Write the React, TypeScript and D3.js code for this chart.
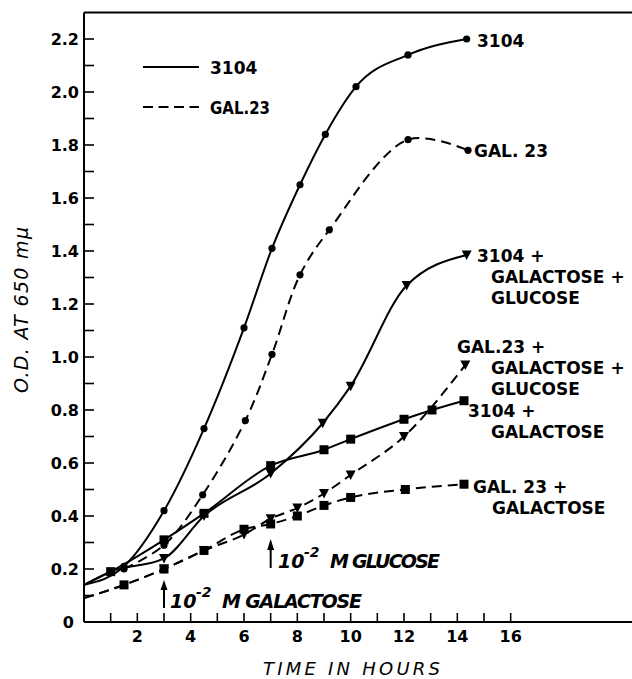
import React from 'react';
import * as d3 from 'd3';

// optical density (650 mu) vs time in hours
const hours3104 = [0, 1.5, 3, 4.5, 6, 7.05, 8.1, 9.05, 10.2, 12.15, 14.35];
const od3104 = [0.14, 0.21, 0.42, 0.73, 1.11, 1.41, 1.65, 1.84, 2.02, 2.14, 2.2];

const hoursGal23 = [1.5, 3, 4.45, 6.05, 7.05, 8.1, 9.2, 12.15, 14.4];
const odGal23 = [0.2, 0.29, 0.48, 0.76, 1.01, 1.31, 1.48, 1.82, 1.78];

const hours3104Gal = [0, 1, 3, 4.5, 7, 9, 10, 12, 13.05, 14.25];
const od3104Gal = [0.14, 0.19, 0.31, 0.41, 0.59, 0.65, 0.69, 0.765, 0.8, 0.835];

const hours3104GalGlu = [0, 1, 3, 4.5, 7, 8.95, 10, 12.1, 14.35];
const od3104GalGlu = [0.14, 0.19, 0.24, 0.4, 0.56, 0.75, 0.89, 1.27, 1.385];

const hoursGal23Gal = [0, 1.5, 3, 4.5, 6, 7, 8, 9, 10, 12.05, 14.25];
const odGal23Gal = [0.09, 0.14, 0.2, 0.27, 0.35, 0.37, 0.4, 0.44, 0.47, 0.5, 0.52];

const hoursGal23GalGlu = [0, 1.5, 3, 4.5, 6, 7, 8, 9, 10, 12, 14.3];
const odGal23GalGlu = [0.09, 0.14, 0.2, 0.27, 0.33, 0.39, 0.43, 0.485, 0.555, 0.7, 0.97];

const yTickValues = d3.range(1, 23).map(d => d / 10);
const yLabelValues = [0, 0.2, 0.4, 0.6, 0.8, 1.0, 1.2, 1.4, 1.6, 1.8, 2.0, 2.2];
const xTickValues = d3.range(1, 17);
const xLabelValues = [2, 4, 6, 8, 10, 12, 14, 16];

const FONT = '"DejaVu Sans", sans-serif';

const series = [
  { hours: hours3104, od: od3104, dashed: false, marker: 'circle', skip: 1, label: ['3104'], lx: 477, ly: 47, indent: 0 },
  { hours: hoursGal23, od: odGal23, dashed: true, marker: 'circle', skip: 0, label: ['GAL. 23'], lx: 474, ly: 157, indent: 0, hump: true },
  { hours: hours3104GalGlu, od: od3104GalGlu, dashed: false, marker: 'tri', skip: 2, label: ['3104  +', 'GALACTOSE +', 'GLUCOSE'], lx: 477, ly: 262, indent: 14 },
  { hours: hours3104Gal, od: od3104Gal, dashed: false, marker: 'square', skip: 1, label: ['3104  +', 'GALACTOSE'], lx: 468, ly: 417, indent: 23 },
  { hours: hoursGal23GalGlu, od: odGal23GalGlu, dashed: true, marker: 'tri', skip: 2, label: ['GAL.23 +', 'GALACTOSE +', 'GLUCOSE'], lx: 457, ly: 353, indent: 34 },
  { hours: hoursGal23Gal, od: odGal23Gal, dashed: true, marker: 'square', skip: 1, label: ['GAL. 23  +', 'GALACTOSE'], lx: 473, ly: 493, indent: 19 },
];

const App = () => {
  const width = 632;
  const height = 679;
  const x = d3.scaleLinear().domain([0, 20.55]).range([84, 632]);
  const y = d3.scaleLinear().domain([0, 2.3]).range([622, 12.5]);

  const smooth = d3
    .line<[number, number]>()
    .x(d => x(d[0]))
    .y(d => y(d[1]))
    .curve(d3.curveMonotoneX);
  // GAL.23 rises past the 12 h point and falls back, so it needs a curve that can overshoot
  const humped = d3
    .line<[number, number]>()
    .x(d => x(d[0]))
    .y(d => y(d[1]))
    .curve(d3.curveCatmullRom.alpha(0.5));

  const drawMarker = (kind: string, cx: number, cy: number, key: string) => {
    if (kind === 'circle') return <circle key={key} cx={cx} cy={cy} r={3.6} fill="#000" />;
    if (kind === 'square') return <rect key={key} x={cx - 4.5} y={cy - 4.5} width={9} height={9} fill="#000" />;
    return <path key={key} d={`M${cx - 5},${cy - 4.5}L${cx + 5},${cy - 4.5}L${cx},${cy + 5}Z`} fill="#000" />;
  };

  return (
    <div style={{ position: 'absolute', left: 0, top: 0 }}>
      <svg width={width} height={height} style={{ display: 'block', background: '#fff' }}>
        {/* frame */}
        <g stroke="#000" strokeWidth={2} fill="none">
          <line x1={x(0)} x2={width} y1={y(2.3)} y2={y(2.3)} />
          <line x1={x(0)} x2={width} y1={y(0)} y2={y(0)} />
          <line x1={x(0)} x2={x(0)} y1={y(2.3)} y2={y(0)} />
        </g>

        {/* y ticks pointing in */}
        <g stroke="#000" strokeWidth={1.6}>
          {yTickValues.map(v => (
            <line key={v} x1={x(0)} x2={x(0) + 10} y1={y(v)} y2={y(v)} />
          ))}
        </g>
        <g fontFamily={FONT} fontWeight="bold" fontSize={16} textAnchor="end" fill="#000">
          {yLabelValues.map(v => (
            <text key={v} x={v === 0 ? 74 : 79} y={y(v) + 6}>
              {v === 0 ? '0' : d3.format('.1f')(v)}
            </text>
          ))}
        </g>

        {/* x ticks pointing up */}
        <g stroke="#000" strokeWidth={1.6}>
          {xTickValues.map(v => (
            <line key={v} x1={x(v)} x2={x(v)} y1={y(0)} y2={y(0) - 9} />
          ))}
        </g>
        <g fontFamily={FONT} fontWeight="bold" fontSize={16} textAnchor="middle" fill="#000">
          {xLabelValues.map(v => (
            <text key={v} x={x(v)} y={642}>
              {v}
            </text>
          ))}
        </g>

        {/* axis titles */}
        <text x={263} y={675} fontFamily={FONT} fontStyle="italic" fontSize={18} textLength={177} lengthAdjust="spacing">
          TIME IN HOURS
        </text>
        <text
          transform="translate(28,393) rotate(-90)"
          fontFamily={FONT}
          fontStyle="italic"
          fontSize={19}
          textLength={166}
          lengthAdjust="spacing"
        >
          O.D. AT 650 mμ
        </text>

        {/* curves */}
        {series.map((s, i) => {
          const pts = s.hours.map((h, j) => [h, s.od[j]] as [number, number]);
          return (
            <path
              key={'l' + i}
              d={(s.hump ? humped(pts) : smooth(pts)) || ''}
              fill="none"
              stroke="#000"
              strokeWidth={2}
              strokeDasharray={s.dashed ? '10,6' : undefined}
            />
          );
        })}
        {series.map((s, i) =>
          s.hours.map((h, j) => (j < s.skip ? null : drawMarker(s.marker, x(h), y(s.od[j]), `m${i}-${j}`)))
        )}

        {/* curve labels */}
        <g fontFamily={FONT} fontWeight="bold" fontSize={17} fill="#000">
          {series.map((s, i) =>
            s.label.map((t, k) => (
              <text key={`t${i}-${k}`} x={s.lx + (k === 0 ? 0 : s.indent)} y={s.ly + k * 21}>
                {t}
              </text>
            ))
          )}
        </g>

        {/* legend */}
        <g stroke="#000" strokeWidth={2}>
          <line x1={143} x2={199} y1={67} y2={67} />
          <line x1={143} x2={199} y1={107} y2={107} strokeDasharray="10,5.5" />
        </g>
        <g fontFamily={FONT} fontWeight="bold" fontSize={17} fill="#000">
          <text x={210} y={74}>3104</text>
          <text x={210} y={114} textLength={60} lengthAdjust="spacingAndGlyphs">GAL.23</text>
        </g>

        {/* additions */}
        <g stroke="#000" strokeWidth={2}>
          <line x1={x(3)} x2={x(3)} y1={608} y2={588} />
          <line x1={x(7)} x2={x(7)} y1={568} y2={548} />
        </g>
        <path d={`M${x(3) - 3.5},${590}L${x(3)},${580}L${x(3) + 3.5},${590}Z`} fill="#000" />
        <path d={`M${x(7) - 3.5},${550}L${x(7)},${539}L${x(7) + 3.5},${550}Z`} fill="#000" />
        <g fontFamily={FONT} fontWeight="bold" fontStyle="italic" fontSize={19} fill="#000">
          <text x={170} y={608}>10</text>
          <text x={196} y={597} fontSize={14}>-2</text>
          <text x={222} y={608} textLength={140} lengthAdjust="spacing">M GALACTOSE</text>
          <text x={278} y={568}>10</text>
          <text x={304} y={557} fontSize={14}>-2</text>
          <text x={330} y={568} textLength={110} lengthAdjust="spacing">M GLUCOSE</text>
        </g>
      </svg>
    </div>
  );
};

export default App;
